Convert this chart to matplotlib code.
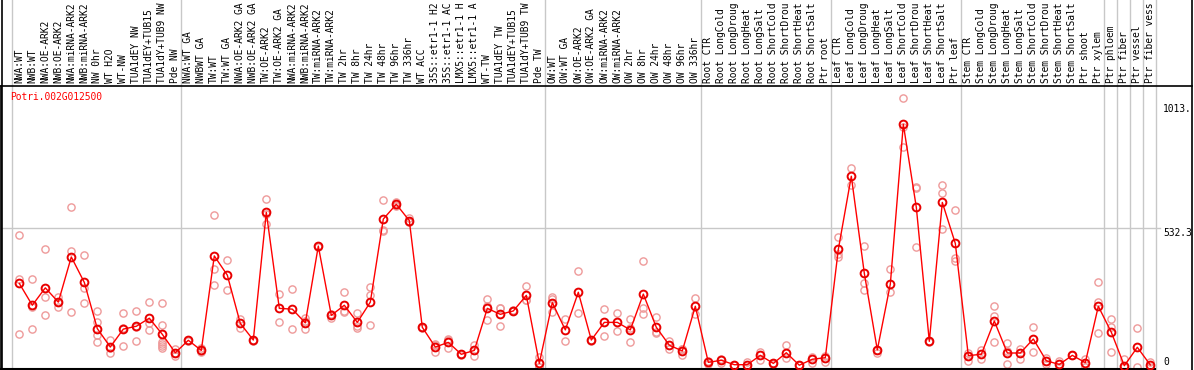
import matplotlib
matplotlib.use("Agg")
import matplotlib.pyplot as plt
from matplotlib.lines import Line2D

GENE = "Potri.002G012500"

labels = [
    # normal wood
    "NWA:WT", "NWB:WT", "NWA:OE-ARK2", "NWB:OE-ARK2", "NWA:miRNA-ARK2", "NWB:miRNA-ARK2",
    "NW 0hr", "WT H2O", "WT-NW", "TUA1dEY NW", "TUA1dEY+TUB15 NW", "TUA1dY+TUB9 NW", "Pde NW",
    # tension wood
    "NWA:WT GA", "NWBWT GA", "TW:WT", "TW:WT GA", "NWA:OE-ARK2 GA", "NWB:OE-ARK2 GA",
    "TW:OE-ARK2", "TW:OE-ARK2 GA", "NWA:miRNA-ARK2 GA", "NWB:miRNA-ARK2 GA", "TW:miRNA-ARK2",
    "TW:miRNA-ARK2", "TW 2hr", "TW 8hr", "TW 24hr", "TW 48hr", "TW 96hr", "TW 336hr", "WT ACC",
    "35S::etr1-1 H2O", "35S::etr1-1 ACC", "LMX5::etr1-1 H2O", "LMX5::etr1-1 ACC", "WT-TW",
    "TUA1dEY TW", "TUA1dEY+TUB15 TW", "TUA1dY+TUB9 TW", "Pde TW",
    # opposite wood
    "OW:WT", "OW:WT GA", "OW:OE-ARK2", "OW:OE-ARK2 GA", "OW:miRNA-ARK2", "OW:miRNA-ARK2",
    "OW 2hr", "OW 8hr", "OW 24hr", "OW 48hr", "OW 96hr", "OW 336hr",
    # root
    "Root CTR", "Root LongCold", "Root LongDrought", "Root LongHeat", "Root LongSalt",
    "Root ShortCold", "Root ShortDrought", "Root ShortHeat", "Root ShortSalt", "Ptr root",
    # leaf
    "Leaf CTR", "Leaf LongCold", "Leaf LongDrought", "Leaf LongHeat", "Leaf LongSalt",
    "Leaf ShortCold", "Leaf ShortDrought", "Leaf ShortHeat", "Leaf ShortSalt", "Ptr leaf",
    # stem
    "Stem CTR", "Stem LongCold", "Stem LongDrought", "Stem LongHeat", "Stem LongSalt",
    "Stem ShortCold", "Stem ShortDrought", "Stem ShortHeat", "Stem ShortSalt", "Ptr shoot",
    "Ptr xylem",
    # single tissues
    "Ptr phloem", "Ptr fiber", "Ptr vessel", "Ptr fiber vessel",
]

means = [
    320, 236, 303, 248, 422, 324, 146, 75, 144, 155, 186, 124, 53,
    101, 62, 426, 352, 166, 102, 594, 224, 221, 168, 464, 197, 236, 170, 248, 568,
    625, 562, 151, 75, 93, 47, 62, 224, 201, 214, 274, 12,
    246, 141, 286, 102, 170, 170, 141, 279, 151, 82, 60, 232,
    16, 24, 7, 7, 43, 12, 53, 5, 28, 34,
    451, 733, 359, 64, 317, 933, 613, 97, 632, 474,
    42, 47, 175, 52, 52, 106, 22, 8, 43, 15, 232,
    132, 3, 74, 6,
]

reps = [
    [506, 336, 124], [336, 144, 228], [453, 267, 197], [267, 230, 248], [615, 445, 209],
    [429, 303, 243], [215, 170, 121, 96], [102, 51, 72], [205, 80, 147], [213, 98, 154],
    [247, 166, 139], [243, 158, 96, 88, 80, 72], [66, 42, 51],
    [104, 98], [72, 56, 58], [582, 374, 314], [409, 295], [184, 148], [100, 104],
    [645, 549, 588], [278, 170], [297, 144], [186, 144, 174], [464, 462], [186, 202],
    [287, 209, 212], [205, 149, 156], [306, 274, 159], [641, 527, 523], [635, 622, 618],
    [573, 558, 555], [151, 150], [87, 57, 81], [106, 72, 101], [47, 46], [83, 42],
    [259, 179, 234], [224, 155, 224], [214, 212, 216], [310, 256, 256], [36, 0, 0],
    [260, 211, 267], [184, 98], [368, 205], [104, 98], [220, 119], [205, 136],
    [182, 93, 148], [405, 224, 202], [192, 132, 129], [98, 66], [67, 44, 69], [263, 202],
    [10, 22], [15, 30], [7, 6], [19, 0], [55, 25], [12, 11], [84, 33], [5, 4], [38, 15],
    [42, 19],
    [498, 433, 423], [763, 699], [464, 320, 294], [51, 64], [374, 286], [1033, 924, 844],
    [686, 460, 693], [97, 96], [699, 667, 528], [603, 419, 408],
    [22, 53], [64, 29], [232, 196, 93], [89, 8, 59], [69, 28], [151, 55], [34, 10],
    [22, 0], [43, 44], [29, 0], [324, 250, 128],
    [183, 153, 55], [30, 0], [150, 0], [18, 0],
]

group_starts = [0, 13, 41, 53, 63, 73, 84, 85, 86, 87, 88]
y_mid = 532.3
y_max_label = "1013."

FONT = "DejaVu Sans Mono"
FS = 6.9
HEAD_CHARS = 14  # header cells only fit this many characters
W, H = 1194, 370

fig = plt.figure(figsize=(W / 100, H / 100), dpi=100)
fig.patch.set_facecolor("white")

# plot area in pixels: x 1..1155, y 86..369
ax = fig.add_axes([1 / W, (H - 369) / H, 1154 / W, 283 / H])
ax.set_xlim(-1.408, 87.36)
ax.set_ylim(-9.6, 1080.5)
ax.set_xticks([])
ax.set_yticks([])
for side in ["top", "right"]:
    ax.spines[side].set_visible(False)
ax.spines["left"].set_color("black")
ax.spines["bottom"].set_color("black")
ax.spines["left"].set_linewidth(1.2)
ax.spines["bottom"].set_linewidth(1.5)

# group separators run up through the header
top_frac = 369 / 283
for s in group_starts:
    ax.axvline(s - 0.6, ymin=0, ymax=top_frac, color="#c8c8c8", lw=1, clip_on=False, zorder=1)
ax.axhline(y_mid, xmin=0, xmax=1159 / 1154, color="#c8c8c8", lw=1, clip_on=False, zorder=1)

# replicates
for i, r in enumerate(reps):
    ax.plot([i] * len(r), r, "o", mfc="none", mec="#ee9a9a", ms=5.2, mew=1.0, zorder=2)

# mean line
x = list(range(len(means)))
ax.plot(x, means, "-", color="#ff0000", lw=1, zorder=3)
ax.plot(x, means, "o", mfc="none", mec="#e80000", ms=5.6, mew=1.4, zorder=4)

# column headers
head_y = (369 - 83) / 283
for i, lab in enumerate(labels):
    ax.text(i, head_y, lab[:HEAD_CHARS].rstrip(), transform=ax.get_xaxis_transform(),
            rotation=90, ha="center", va="bottom", fontsize=FS, family=FONT, clip_on=False)

ax.text(9 / 1154, (369 - 97) / 283, GENE, transform=ax.transAxes, color="red",
        fontsize=FS, family=FONT, va="center", ha="left")

# value labels on the right
lab_x = (1163 - 19.3) / 13
ax.text(lab_x, 1013, y_max_label, fontsize=FS, family=FONT, va="top", ha="left", clip_on=False)
ax.text(lab_x, y_mid, "532.3", fontsize=FS, family=FONT, va="top", ha="left", clip_on=False)
ax.text(lab_x, 0, "0", fontsize=FS, family=FONT, va="bottom", ha="left", clip_on=False)

# frame lines outside the plot area
fig.add_artist(Line2D([1 / W, 1192 / W], [(H - 85.5) / H] * 2, color="black", lw=1.2))
fig.add_artist(Line2D([1.5 / W] * 2, [(H - 369) / H, 1], color="black", lw=1.2))
fig.add_artist(Line2D([1191.5 / W] * 2, [0, 1], color="black", lw=1.2))

fig.savefig("out.png", dpi=100)
